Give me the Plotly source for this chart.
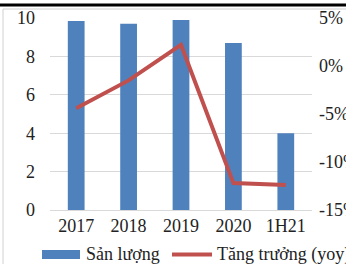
import plotly.graph_objects as go

categories = ["2017", "2018", "2019", "2020", "1H21"]
san_luong = [9.85, 9.7, 9.9, 8.7, 4.0]
tang_truong = [-4.4, -1.5, 2.2, -12.2, -12.4]
left_ticks = [0, 2, 4, 6, 8, 10]
right_ticks = [-15, -10, -5, 0, 5]
right_labels = ["-15%", "-10%", "-5%", "0%", "5%"]

FONT = "Liberation Serif, Times New Roman, serif"
BLUE = "#4F81BD"
RED = "#C0504D"
FS = 18

fig = go.Figure()
fig.add_trace(go.Bar(x=categories, y=san_luong, name="Sản lượng",
                     marker=dict(color=BLUE, line=dict(width=0)), width=0.32,
                     yaxis="y"))
fig.add_trace(go.Scatter(x=categories, y=tang_truong, name="Tăng trưởng (yoy)",
                         mode="lines", line=dict(color=RED, width=4),
                         yaxis="y2"))

L, R, T, B = 50, 34, 18, 54
W, H = 346, 264
pw = W - L - R
ph = H - T - B

def px(x):
    return (x - L) / pw

def py(y):
    return (H - B - y) / ph

shapes = [
    # top black rule
    dict(type="line", xref="paper", yref="paper", x0=px(0), x1=px(346), y0=py(5), y1=py(5),
         line=dict(color="black", width=3)),
    # frame border
    dict(type="line", xref="paper", yref="paper", x0=px(3), x1=px(346), y0=py(9), y1=py(9),
         line=dict(color="#D0D0D0", width=1)),
    dict(type="line", xref="paper", yref="paper", x0=px(3), x1=px(3), y0=py(9), y1=py(264),
         line=dict(color="#D0D0D0", width=1)),
    # legend symbols
    dict(type="rect", xref="paper", yref="paper", x0=px(42), x1=px(80), y0=py(250), y1=py(259),
         fillcolor=BLUE, line=dict(width=0)),
    dict(type="line", xref="paper", yref="paper", x0=px(172), x1=px(212), y0=py(254.5), y1=py(254.5),
         line=dict(color=RED, width=4)),
]

annotations = [
    dict(text="Sản lượng", xref="paper", yref="paper", x=px(84), y=py(254),
         xanchor="left", yanchor="middle", showarrow=False,
         font=dict(family=FONT, size=FS, color="#222")),
    dict(text="Tăng trưởng (yoy)", xref="paper", yref="paper", x=px(215), y=py(254),
         xanchor="left", yanchor="middle", showarrow=False,
         font=dict(family=FONT, size=FS, color="#222")),
]

fig.update_layout(
    width=W, height=H,
    margin=dict(l=L, r=R, t=T, b=B, pad=0, autoexpand=False),
    paper_bgcolor="white", plot_bgcolor="white",
    font=dict(family=FONT, size=FS, color="#222"),
    showlegend=False,
    xaxis=dict(type="category", showgrid=False, showline=False, ticks="", automargin=False,
               tickfont=dict(size=FS), ticklabelstandoff=3),
    yaxis=dict(range=[0, 10], tickvals=left_ticks, showgrid=True, gridcolor="#D9D9D9",
               gridwidth=1, zeroline=True, zerolinecolor="#D9D9D9", zerolinewidth=1,
               showline=False, ticks="", ticklabelstandoff=14, tickfont=dict(size=FS),
               automargin=False),
    yaxis2=dict(range=[-15, 5], tickvals=right_ticks, ticktext=right_labels,
                overlaying="y", side="right", showgrid=False, zeroline=False,
                showline=False, ticks="", ticklabelstandoff=6, tickfont=dict(size=FS),
                automargin=False),
    shapes=shapes,
    annotations=annotations,
)

fig.write_html("out.html", config={"displayModeBar": False, "staticPlot": True},
               post_script="document.body.style.margin='0';document.body.style.overflow='hidden';")
